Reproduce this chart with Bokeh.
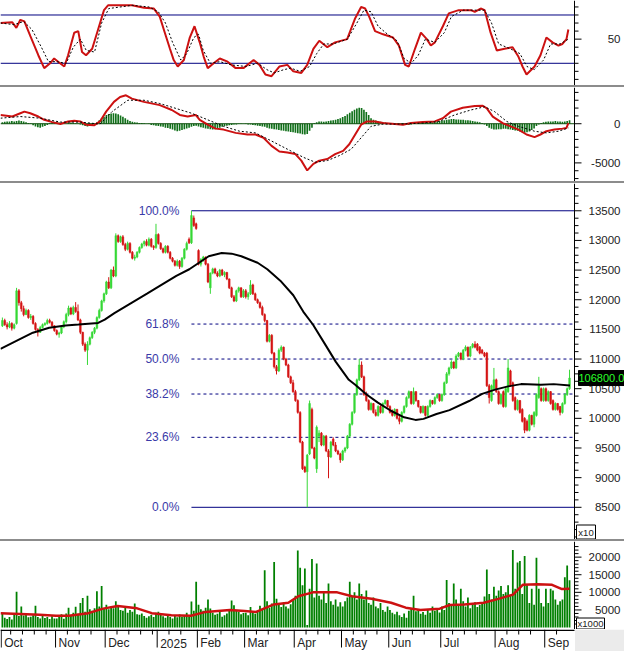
from bokeh.plotting import figure
from bokeh.models import Range1d, Div, ColumnDataSource, Span
from bokeh.layouts import column
from bokeh.embed import file_html
from bokeh.resources import INLINE
from bokeh.core.properties import value

# ---------------- data ----------------
month_labels = ["Oct", "Nov", "Dec", "2025", "Feb", "Mar", "Apr", "May", "Jun", "Jul", "Aug", "Sep"]
month_starts = [0, 23, 44, 66, 83, 103, 124, 144, 164, 186, 209, 230]
week_ticks = [4, 9, 14, 19, 28, 33, 38, 49, 54, 59, 64, 71, 76, 88, 93, 98, 108, 113, 118,
              129, 134, 139, 149, 154, 159, 169, 174, 179, 191, 196, 201, 214, 219, 224, 235]

stoch_ticks = [50]
macd_ticks = [-5000, 0]
price_ticks = [8500, 9000, 9500, 10000, 10500, 11000, 11500, 12000, 12500, 13000, 13500]
volume_ticks = [5000, 10000, 15000, 20000]

opens = [11560,11650,11580,11540,11600,11520,11600,12150,11950,11850,11750,11820,11700,11720,11600,11500,11450,11530,11580,11600,11650,11620,11560,
         11480,11420,11440,11540,11630,11750,11860,11760,11870,11800,11660,11450,11250,11150,11250,11360,11450,11520,11700,11820,11980,
         12100,12300,12200,12500,12400,13080,12980,13060,12930,12850,12950,12800,12700,12720,12800,12880,12940,12980,12920,13020,12900,12880,
         13100,12950,12860,12800,12900,12800,12700,12650,12580,12650,12560,12700,12850,13020,12960,13380,13280,
         12830,12600,12680,12720,12600,12200,12450,12520,12450,12400,12500,12420,12460,12350,12200,12050,11980,12150,12200,12050,
         12150,12050,12100,12250,12100,12000,11950,11870,11750,11650,11300,11400,11100,10870,10800,11150,11200,11000,10900,10700,10600,
         10450,10300,10100,9600,9180,9100,9400,10150,9500,9150,9700,9750,9550,9700,9450,9350,9650,9550,9450,9400,
         9300,9450,9500,9700,9900,10100,10400,10650,10900,10700,10400,10300,10150,10250,10100,10050,10200,10100,10250,10300,
         10200,10100,10050,10150,10000,9950,10100,10200,10350,10450,10250,10450,10300,10200,10100,10200,10050,10200,10300,10250,10350,10400,
         10300,10400,10600,10750,10850,10950,10850,11050,11100,11000,11150,11200,11050,11200,11250,11250,11200,11150,11100,11100,10550,10300,10500,
         10650,10450,10250,10450,10200,10450,10800,10600,10350,10150,10300,10150,10000,9950,9800,10050,9900,10050,10350,10500,10300,
         10500,10300,10450,10300,10150,10250,10200,10100,10250,10400,10500]
highs = [11700,11680,11620,11640,11620,11600,12200,12180,11980,11900,11850,11840,11760,11740,11620,11520,11560,11600,11620,11680,11680,11640,11570,
         11500,11460,11560,11650,11780,11900,11880,11900,11960,11920,11680,11460,11280,11300,11380,11470,11540,11720,11850,12000,12120,
         12320,12380,12520,12560,13120,13100,13080,13090,12960,12980,12970,12820,12760,12820,12900,12960,13000,13020,13050,13040,12920,13280,
         13120,12970,12880,12920,12920,12820,12720,12670,12680,12670,12720,12870,12980,13050,13500,13420,13300,
         12850,12700,12740,12730,12620,12460,12540,12540,12480,12520,12520,12480,12470,12360,12220,12080,12170,12220,12210,12180,
         12180,12130,12330,12270,12120,12020,11970,11900,11770,11660,11420,11420,11120,10900,11180,11230,11210,11020,10920,10720,10650,
         10480,10320,10120,9620,9200,9400,10300,10180,9520,9880,9800,9770,9720,9720,9480,9620,9680,9600,9470,9420,
         9470,9520,9720,9920,10120,10420,10670,11000,10960,10720,10450,10320,10270,10260,10150,10220,10220,10270,10320,10310,
         10220,10150,10170,10160,10050,10120,10220,10370,10470,10460,10520,10460,10310,10210,10220,10210,10220,10320,10310,10370,10420,10410,
         10420,10620,10780,10870,10980,10960,11080,11120,11110,11170,11230,11210,11220,11270,11300,11270,11220,11170,11120,11120,10580,10570,10850,
         10670,10470,10420,10470,10520,11000,10820,10620,10370,10320,10310,10170,10020,9980,10070,10060,10120,10420,10700,10520,10520,
         10520,10470,10460,10320,10270,10260,10210,10270,10420,10520,10820]
lows = [11540,11560,11500,11520,11480,11500,11580,11900,11800,11720,11740,11680,11660,11580,11480,11380,11440,11520,11560,11580,11600,11540,11460,
        11400,11360,11420,11520,11600,11720,11740,11740,11780,11640,11420,11220,11120,10900,11230,11340,11420,11500,11680,11800,11950,
        12080,12180,12180,12380,12380,12960,12960,12910,12820,12830,12780,12680,12660,12700,12780,12860,12900,12900,12900,12880,12840,12860,
        12930,12840,12780,12780,12780,12680,12630,12560,12560,12520,12540,12680,12830,12940,12940,13230,13180,
        12580,12560,12640,12580,12280,12100,12430,12430,12380,12380,12400,12380,12330,12180,12030,11960,11960,12120,12030,12030,
        12020,12000,12080,12080,11980,11930,11850,11730,11620,11280,11280,11080,10840,10740,10780,11120,10980,10880,10680,10580,10430,
        10280,10080,9580,9130,9080,8500,9380,9480,9310,9080,9600,9530,9530,9430,8990,9330,9530,9430,9380,9250,
        9280,9420,9480,9680,9880,10080,10380,10630,10680,10380,10280,10130,10130,10080,10030,10030,10080,10080,10230,10180,
        10080,10030,10030,9980,9900,9930,10080,10180,10330,10230,10230,10280,10180,10080,10080,10030,10030,10180,10230,10230,10330,10280,
        10280,10380,10580,10720,10830,10830,10830,11030,10980,10980,11130,11030,11030,11180,11180,11130,11080,11080,11030,10530,10250,10280,10480,
        10430,10230,10230,10180,10180,10430,10530,10280,10130,10130,10080,9930,9750,9780,9780,9880,9850,10030,10330,10280,10280,
        10280,10280,10230,10130,10130,10130,10050,10080,10230,10380,10480]
closes = [11650,11580,11540,11600,11520,11580,12150,11950,11850,11750,11820,11700,11720,11600,11500,11450,11530,11580,11600,11650,11620,11560,11480,
          11420,11440,11540,11630,11750,11860,11760,11870,11800,11660,11450,11250,11150,11250,11360,11450,11520,11700,11820,11980,12100,
          12300,12200,12500,12400,13080,12980,13060,12930,12850,12950,12800,12700,12720,12800,12880,12940,12980,12920,13020,12900,12880,13100,
          12950,12860,12800,12900,12800,12700,12650,12580,12650,12560,12700,12850,12950,12960,13420,13250,13200,
          12600,12680,12720,12600,12300,12450,12520,12450,12400,12500,12420,12460,12350,12200,12050,11980,12150,12200,12050,12150,
          12050,12100,12250,12100,12000,11950,11870,11750,11650,11300,11400,11100,10870,10800,11150,11200,11000,10900,10700,10600,10450,
          10300,10100,9600,9150,9100,9380,10250,9500,9330,9850,9750,9550,9700,9450,9350,9600,9550,9450,9400,9300,
          9450,9500,9700,9900,10100,10400,10650,10900,10700,10400,10300,10150,10250,10100,10050,10200,10100,10250,10300,10200,
          10100,10050,10150,10000,9950,10100,10200,10350,10450,10250,10450,10300,10200,10100,10200,10050,10200,10300,10250,10350,10400,10300,
          10400,10600,10750,10850,10950,10850,11050,11100,11000,11150,11200,11050,11200,11250,11200,11150,11100,11100,11050,10550,10350,10550,10650,
          10450,10250,10400,10200,10500,10850,10550,10300,10150,10300,10100,9950,9800,9800,10050,9900,10100,10400,10550,10300,10500,
          10300,10450,10250,10150,10250,10150,10100,10250,10400,10500,10680]

volume = [4200,2800,2400,3000,2300,3600,10200,3300,6000,3400,3800,2900,3100,3500,6200,3000,2600,3500,2700,3000,2400,3200,2600,
          2600,3200,3800,2500,4000,5600,3500,4200,5900,3900,7000,8400,4500,9000,5200,4800,5500,10300,6000,11800,5500,
          6500,5200,6000,5500,7500,6300,5000,4800,5600,4200,5000,4500,6800,3800,3600,4000,3300,2800,3200,3600,3000,4200,
          4500,3800,3200,2800,3400,3000,2600,3300,2900,3700,3100,3500,4200,3000,7400,4800,13000,
          6500,5200,4800,5600,8000,5400,4200,3600,3900,4400,3100,3500,4000,5200,7700,6300,4800,4500,3800,4100,
          4200,3500,5800,4600,3900,4800,6200,5200,16300,7500,5600,6800,18600,8200,6500,5800,7200,6000,5400,6600,7800,
          9000,21900,17000,12000,16800,700,11000,19500,8500,18200,9000,8000,10000,7000,12500,7500,6500,8000,6000,7200,
          6000,7500,8500,13000,9000,10000,8000,12500,9500,8000,10500,7000,6500,8500,6000,5500,7000,5000,4500,6000,
          5000,4200,3800,4500,3500,3000,4000,2800,4800,5500,9000,4600,5200,3900,4400,3600,5000,4200,6000,4800,5500,4300,
          6000,5000,13500,7000,6500,12500,8000,6500,11000,7500,6000,8500,5500,6800,7200,5800,6400,7000,8800,16500,9500,8000,11600,
          9000,10500,11800,9500,10000,12000,9000,22000,11000,18500,18900,9500,20300,12000,7000,11000,6500,19800,11000,7000,6000,
          11000,7000,11000,10500,8000,6500,7500,8000,14300,17600,13400]

# moving average of price (black line), read at sample points
ma_idx = [-0.8, 7.4, 12.9, 19.8, 26.7, 32.2, 40.5, 43.3, 47.4, 54.3, 61.2, 68.0, 73.6, 79.1, 83.2, 87.3, 92.8,
          97.0, 101.1, 108.0, 112.1, 117.6, 123.1, 127.3, 131.4, 136.9, 141.1, 146.6, 149.3, 154.1, 158.9,
          164.4, 170.0, 174.8, 178.2, 183.7, 189.2, 197.5, 203.0, 208.5, 214.0, 219.5, 227.8, 233.3, 240.2]
ma_val = [11170, 11335, 11444, 11527, 11565, 11582, 11609, 11664, 11773, 11938, 12102, 12267, 12404, 12514, 12623,
          12733, 12788, 12777, 12733, 12623, 12514, 12322, 12075, 11801, 11582, 11226, 10952, 10650, 10566, 10402,
          10265, 10128, 10018, 9974, 9991, 10073, 10139, 10292, 10413, 10484, 10539, 10577, 10566, 10577, 10555]

# moving average of volume (red line)
vma_idx = [-0.8, 15.7, 22.7, 28.1, 36.4, 42.6, 48.8, 57.0, 63.2, 71.5, 79.8, 86.0, 96.3, 102.5, 107.4, 114.9,
           121.0, 125.2, 131.4, 141.7, 147.9, 156.2, 164.5, 170.7, 176.9, 185.1, 189.3, 195.5, 203.7, 209.9,
           216.1, 220.2, 226.4, 232.6, 236.8, 240.0]
vma_val = [4080, 3610, 3330, 3330, 4080, 5370, 6110, 5460, 4080, 3520, 3330, 4440, 5000, 4720, 4440, 6570,
           7040, 8890, 10000, 10000, 8890, 8150, 7040, 5650, 5000, 5370, 6390, 6570, 7040, 8150,
           9350, 12130, 12320, 12130, 10930, 11020]

# stochastic %K (red) and %D (dashed)
k_idx = [-0.8, 4.2, 5.9, 7.6, 9.3, 11.8, 15.2, 17.7, 20.2, 21.9, 23.6, 26.2, 27.8, 30.4, 32.1, 33.7, 35.4, 38.0,
         40.5, 43.0, 44.7, 49.8, 54.8, 59.9, 64.1, 66.6, 68.3, 70.9, 72.5, 74.2, 76.8, 79.3, 81.3, 83.5, 85.2,
         86.9, 89.4, 92.0, 95.3, 98.7, 102.0, 106.3, 108.8, 111.3, 113.9, 117.2, 120.6, 123.1, 126.5, 129.0,
         131.6, 134.1, 137.5, 140.8, 145.9, 149.3, 151.8, 153.5, 155.2, 157.7, 161.1, 165.3, 167.8, 170.4,
         172.0, 174.6, 177.1, 179.6, 181.3, 183.0, 186.4, 188.9, 193.1, 198.2, 199.9, 202.4, 204.1, 206.6,
         209.2, 212.5, 215.9, 218.4, 220.1, 221.8, 225.2, 227.7, 230.2, 232.8, 235.3, 237.0, 238.7, 239.5]
k_val = [70, 71, 64, 74, 72, 54, 30, 14, 20, 26, 22, 16, 30, 58, 60, 34, 30, 38,
         62, 86, 92, 92, 92, 89, 88, 78, 62, 38, 24, 16, 24, 52, 66, 46, 28,
         14, 20, 26, 22, 14, 14, 24, 18, 6, 4, 16, 18, 10, 8, 18,
         38, 48, 40, 46, 50, 76, 90, 88, 78, 60, 56, 52, 42, 18,
         16, 38, 58, 50, 42, 46, 66, 82, 86, 86, 84, 88, 86, 58,
         36, 38, 40, 28, 16, 6, 16, 30, 52, 46, 42, 44, 50, 62]
d_idx = [-0.8, 5, 9, 12.5, 16.5, 19.5, 23, 27, 30, 33, 35.5, 39, 42, 45, 55, 62, 66, 69, 72, 75.5, 78, 81, 83,
         85, 88, 92, 97, 103, 108, 112, 115, 119, 122, 126, 130, 133, 136, 140, 146, 150, 153, 156, 159, 163,
         167, 170, 173, 176, 179, 183, 187, 190, 195, 204, 207, 210, 215, 219, 222, 225, 229, 232, 236, 239.5]
d_val = [70, 68, 72, 62, 40, 22, 22, 20, 40, 50, 36, 34, 70, 88, 92, 90, 84, 70, 46, 24, 32, 52, 56,
         36, 20, 22, 18, 16, 20, 12, 8, 12, 14, 10, 16, 32, 44, 44, 50, 70, 86, 84, 66, 56,
         48, 26, 20, 30, 50, 46, 58, 78, 86, 86, 70, 44, 38, 32, 16, 12, 24, 44, 44, 50]

# MACD (red), signal (dashed) and histogram (green)
macd_idx = [-0.8, 4.2, 7.6, 9.3, 11.8, 15.2, 17.7, 21.1, 24.5, 27.8, 30.4, 32.9, 35.4, 38.8, 41.3, 43.9, 47.2,
            49.8, 52.3, 54.8, 59.9, 66.6, 71.7, 75.1, 78.4, 81.8, 83.5, 86.9, 90.2, 93.6, 98.7, 103.7, 107.1,
            110.5, 113.9, 117.2, 120.6, 124.0, 126.5, 129.0, 131.6, 134.1, 137.5, 140.8, 144.2, 146.8, 149.3,
            151.8, 154.3, 157.7, 161.1, 166.1, 169.5, 172.9, 177.9, 183.0, 186.4, 189.8, 194.8, 199.9, 203.3,
            205.0, 207.5, 211.7, 215.1, 218.4, 221.8, 225.2, 227.7, 230.2, 233.6, 237.0, 238.7, 239.5]
macd_val = [1125, 917, 1333, 1542, 1333, 917, 500, 208, -42, 292, 375, 292, -125, -208, 292, 1542, 2792,
            3417, 3625, 3208, 2792, 2375, 1750, 1125, 917, 1125, 500, -125, -625, -750, -1167, -1375, -1375,
            -1792, -2833, -3542, -3667, -3875, -4708, -5958, -5125, -4708, -4500, -3875, -3458, -2625, -1375,
            -125, 292, 292, 83, -42, -125, 83, 208, 292, 708, 1542, 2042, 2250, 2292,
            1958, 917, 83, -333, -750, -1375, -1708, -1375, -958, -750, -625, -542, 83]
sig_idx = [-0.8, 7.6, 16.0, 24.5, 32.9, 41.3, 46.4, 53.1, 59.9, 66.6, 73.4, 80.1, 86.9, 93.6, 100.4, 107.1,
           113.9, 120.6, 127.4, 132.4, 137.5, 142.5, 147.6, 151.8, 156.0, 161.1, 167.8, 177.9, 184.7, 191.4,
           198.2, 204.1, 208.3, 213.4, 218.4, 225.2, 230.2, 235.3, 239.5]
sig_val = [708, 917, 708, 208, 208, -42, 1542, 3000, 3000, 2583, 1958, 1333, 500, -333, -958, -1167,
           -2208, -3250, -4292, -4917, -4708, -4083, -3250, -1792, -333, -42, -42, 83, 292, 1125,
           1750, 2167, 1542, 292, -333, -958, -1167, -958, -542]
hist = [200,250,300,300,350,300,350,400,350,300,
        200,100,50,
        -200,-350,-450,-500,-400,-300,-150,
        100,150,200,200,150,100,50,0,
        100,150,100,50,-50,-100,
        -200,-300,-350,-300,-250,-100,
        200,450,700,900,1100,1250,1300,1350,1300,1200,1050,900,700,500,350,
        250,200,150,100,100,50,0,-50,
        -150,-200,-250,-300,-350,-400,-500,-550,-650,-750,-850,-950,-900,-800,-700,-600,-500,-400,-300,-250,
        -350,-450,-500,-600,-650,-700,-750,-700,-600,-500,-400,
        -300,-250,-200,-150,-100,-100,-50,-50,0,-50,-100,-100,-150,-200,-250,
        -300,-350,-400,-500,-600,-650,-700,-750,-800,-850,-900,-950,-1000,-1050,-1100,-1150,-1200,-1250,-1350,-1375,-1300,-900,-500,
        100,200,300,300,250,300,350,400,450,500,
        600,700,850,1000,1200,1400,1600,1800,1950,2050,2000,1800,1500,1100,700,
        500,400,300,250,200,150,100,100,50,50,0,0,
        -50,-100,-150,-150,-100,-50,0,
        50,100,100,150,150,200,200,250,300,350,
        400,450,500,550,600,600,550,550,500,500,450,450,400,350,300,250,200,
        100,-100,-300,-500,-650,-750,-750,-700,-700,-650,-650,-700,-750,-800,-850,
        -900,-1000,-1100,-1150,-1100,-1000,-800,-600,
        -300,-100,100,200,250,300,300,300,350,300,300,250,300,350,450]

fib_ratios = [1.0, 0.618, 0.5, 0.382, 0.236, 0.0]
stoch_levels = [80, 20]

# ---------------- layout ----------------
W = 624
FW = 574                             # width of the bar area; the rest holds the scale
FONT = "Liberation Sans"
X0, X1 = -0.8, 242.1                 # visible bar range across the bar area
PX = (X1 - X0) / FW                  # data units per pixel along x
xr = Range1d(X0, X0 + W * PX)        # frame spans the whole width, same scale
XE = X0 + W * PX
idx = list(range(len(closes)))


def panel(h, y0, y1, ticks, minor):
    p = figure(width=W, height=h, x_range=xr, y_range=Range1d(y0, y1),
               output_backend="svg", toolbar_location=None,
               x_axis_location=None, y_axis_location=None,
               min_border=0, min_border_left=0, min_border_top=0,
               min_border_bottom=0, min_border_right=0)
    p.grid.visible = False
    p.outline_line_color = None
    p.background_fill_color = "white"
    p.border_fill_color = "white"
    if ticks is not None:
        p.add_layout(Span(location=X1, dimension="height", line_color="black", line_width=1))
        p.segment(x0=[X1] * len(minor), y0=minor, x1=[X1 + 4 * PX] * len(minor), y1=minor,
                  line_color="black", line_width=1)
        p.segment(x0=[X1] * len(ticks), y0=ticks, x1=[X1 + 7 * PX] * len(ticks), y1=ticks,
                  line_color="black", line_width=1)
        p.text(x=[X1] * len(ticks), y=ticks, text=[str(t) for t in ticks], x_offset=46,
               text_align="right", text_baseline="middle", text_font=value(FONT),
               text_font_size="11.5px", text_color="#222222")
    return p


def unit_box(p, txt, width_px, height_px, y0, py):
    cy = y0 + (height_px / 2 + 0.5) * py
    cx = X1 + (2 + width_px / 2) * PX
    p.rect(x=[cx], y=[cy], width=width_px, height=height_px,
           width_units="screen", height_units="screen", fill_color="white",
           line_color="black", line_width=1)
    p.text(x=[cx], y=[cy], text=[txt], text_align="center",
           text_baseline="middle", text_font=value(FONT), text_font_size="9.5px",
           text_color="#222222")


def sep():
    return Div(width=W, height=2, margin=0, styles={"background-color": "#8c8c8c"})


# Panel 1: stochastic
p1 = panel(85, -7.6, 98, stoch_ticks, [v for v in range(0, 100, 10) if v not in stoch_ticks])
for lv in stoch_levels:
    p1.segment(x0=[X0], y0=[lv], x1=[X1], y1=[lv], line_color="#000080", line_width=1)
p1.line(k_idx, k_val, line_color="#cc1111", line_width=2)
p1.line(d_idx, d_val, line_color="black", line_width=1, line_dash="2 2")

# Panel 2: MACD
p2 = panel(94, -7375, 4625, macd_ticks, [v for v in range(-7000, 5000, 1000) if v not in macd_ticks])
p2.vbar(x=idx, top=hist, bottom=0, width=0.7, fill_color="#11701a", line_color=None)
p2.segment(x0=[X0], y0=[0], x1=[X1], y1=[0], line_color="#0b4d0b", line_width=1)
p2.line(macd_idx, macd_val, line_color="#cc1111", line_width=2)
p2.line(sig_idx, sig_val, line_color="black", line_width=1, line_dash="2 2")

# Panel 3: price
P3_LO, P3_HI, P3_H = 7957, 13960, 356
p3 = panel(P3_H, P3_LO, P3_HI, price_ticks,
           [v for v in range(8000, 14000, 125) if v not in price_ticks])
hi_i = max(idx, key=lambda i: highs[i])
hi = highs[hi_i]
lo = min(lows)
fib_prices = [lo + r * (hi - lo) for r in fib_ratios]
fib_text = ["%.1f%%" % (r * 100) for r in fib_ratios]
for r, fp in zip(fib_ratios, fib_prices):
    p3.segment(x0=[hi_i], y0=[fp], x1=[X1], y1=[fp], line_color="#000080", line_width=1,
               line_dash="solid" if r in (0.0, 1.0) else "3 3")
p3.text(x=[hi_i] * len(fib_prices), y=fib_prices, text=fib_text, x_offset=-12,
        text_align="right", text_baseline="middle", text_font=value(FONT),
        text_font_size="12px", text_color="#3a3aa8")

colors = ["#36d836" if c >= o else "#d41414" for o, c in zip(opens, closes)]
src = ColumnDataSource(dict(x=idx, o=opens, h=highs, l=lows, c=closes,
                            top=[max(o, c) for o, c in zip(opens, closes)],
                            bot=[min(o, c) for o, c in zip(opens, closes)], col=colors))
p3.segment(x0="x", y0="h", x1="x", y1="l", line_color="col", line_width=1, source=src)
p3.vbar(x="x", top="top", bottom="bot", width=0.72, fill_color="col", line_color="col",
        line_width=0.5, source=src)
p3.line(ma_idx, ma_val, line_color="black", line_width=2)

# last price box
p3.rect(x=[X1 + 27.5 * PX], y=[closes[-1]], width=47, height=15, width_units="screen",
        height_units="screen", fill_color="black", line_color="black")
p3.text(x=[X1 + 4 * PX], y=[closes[-1]], text=["%.1f" % (closes[-1] * 10)], text_align="left",
        text_baseline="middle", text_font=value(FONT), text_font_size="11px", text_color="#2bff2b")
unit_box(p3, "x10", 19, 14, P3_LO, (P3_HI - P3_LO) / P3_H)

# Panel 4: volume
P4_LO, P4_HI, P4_H = -556, 24440, 88
p4 = panel(P4_H, P4_LO, P4_HI, volume_ticks,
           [v for v in range(1000, 24000, 1000) if v not in volume_ticks])
p4.vbar(x=idx, top=volume, bottom=0, width=0.75, fill_color="#008000", line_color=None)
p4.line(vma_idx, vma_val, line_color="#cc1111", line_width=2.5)
unit_box(p4, "x1000", 28, 11, P4_LO, (P4_HI - P4_LO) / P4_H)

# Date strip
p5 = panel(22, 0, 22, None, None)
p5.quad(left=[X1 + 0.5 * PX], right=[XE], bottom=[0], top=[22], fill_color="#ebebeb", line_color=None)
p5.segment(x0=[X0], y0=[21.3], x1=[X1], y1=[21.3], line_color="black", line_width=1.5)
sx = [m - 0.5 for m in month_starts]
p5.segment(x0=sx, y0=[22] * len(sx), x1=sx, y1=[4] * len(sx), line_color="black", line_width=1)
wx = [w - 0.5 for w in week_ticks]
p5.segment(x0=wx, y0=[22] * len(wx), x1=wx, y1=[17] * len(wx), line_color="black", line_width=1)
p5.text(x=sx, y=[8.5] * len(sx), text=month_labels, x_offset=3, text_align="left",
        text_baseline="middle", text_font=value(FONT), text_font_size="12px", text_color="#222222")

layout = column(p1, sep(), p2, sep(), p3, sep(), p4, p5, spacing=0)
open("out.html", "w").write(file_html(layout, INLINE))
